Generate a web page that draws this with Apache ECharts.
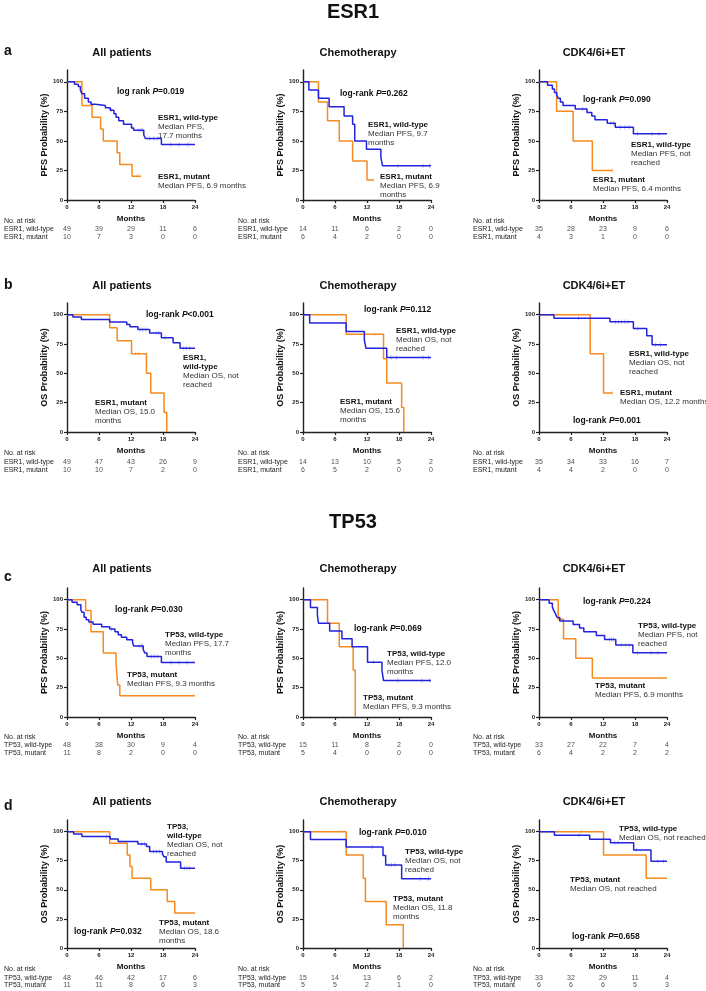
<!DOCTYPE html>
<html>
<head>
<meta charset="utf-8">
<script src="https://cdn.jsdelivr.net/npm/echarts@6/dist/echarts.min.js"></script>
<style>
html,body{margin:0;padding:0;background:#fff}
#chart{width:706px;height:991px}
</style>
</head>
<body>
<div id="chart"></div>
<script>
// ticks of the months axis, also the columns of the risk tables
const monthTicks = [0, 6, 12, 18, 24];
const probTicks = [0, 25, 50, 75, 100];

// ---- ESR1, PFS ([month, survival %] at each step) ----
const a1Wt = [[0,100],[1.4,98],[2.1,96],[2.5,93],[2.8,90],[3.3,86],[4,83],[4.5,81],[5.3,80],[7.2,78],[8.1,76],[8.8,73],[9.2,70],[9.7,67],[10.6,64],[12.1,61],[12.5,59],[14.4,55],[14.7,52],[17.7,47],[24,47]];
const a1Mut = [[0,100],[2.8,80],[4.7,70],[6.3,60],[6.8,50],[9.4,40],[9.9,30],[12.2,20],[13.8,20]];
const a1WtCens = [8.3,13.5,13.9,14.2,15.5,16.3,17,19.5,21,22.7];
const a1MutCens = [13.2,13.8];
const a1RiskWt = [49,39,29,11,6];
const a1RiskMut = [10,7,3,0,0];

const a2Wt = [[0,100],[1.1,93],[2.9,86],[4.9,79],[7.7,71],[9.3,64],[9.7,50],[11.9,43],[14.6,36],[14.9,29],[24,29]];
const a2Mut = [[0,100],[2.9,83],[4.6,67],[6.8,50],[9.3,33],[12,17],[13.2,17]];
const a2WtCens = [17.8,22.5,23.7];
const a2MutCens = [13.2];
const a2RiskWt = [14,11,6,2,0];
const a2RiskMut = [6,4,2,0,0];

const a3Wt = [[0,100],[1.6,97],[2.5,94],[2.9,91],[3.3,89],[3.6,86],[4,83],[4.5,80],[6.8,77],[9,74],[9.9,71],[10.5,68],[12.8,65],[14.3,61.5],[17.7,56],[24,56]];
const a3Mut = [[0,100],[3.3,75],[6.4,50],[10,25],[13.8,25]];
const a3WtCens = [8.2,13.5,14,15.3,16.1,16.9,18.5,21.2,22.5];
const a3MutCens = [13.8];
const a3RiskWt = [35,28,23,9,6];
const a3RiskMut = [4,3,1,0,0];

// ---- ESR1, OS ----
const b1Wt = [[0,100],[1.1,98],[2.7,96],[8,93.7],[11.2,91.7],[11.8,89.7],[13.3,87.5],[15.5,84.5],[17.7,80.3],[19.9,76],[21.2,71.5],[24,71.5]];
const b1Mut = [[0,100],[8,88.9],[9.4,77.8],[12.1,66.7],[14.9,50],[15.7,33.3],[18.2,16.7],[18.7,0]];
const b1WtCens = [13.7,14.2,14.8,16.7,17.2,18.4,21.9,22.4,23];
const b1MutCens = [7.5,12.8,13.4];
const b1RiskWt = [49,47,43,26,9];
const b1RiskMut = [10,10,7,2,0];

const b2Wt = [[0,100],[1.25,92.9],[8.1,85.7],[11.5,78.6],[11.8,71.4],[15.7,63.5],[24,63.5]];
const b2Mut = [[0,100],[8.1,83.3],[15.1,62.5],[15.7,41.7],[18.5,20.8],[18.9,0]];
const b2WtCens = [16.5,17.5,22.5,23.5];
const b2MutCens = [13.4];
const b2RiskWt = [14,13,10,5,2];
const b2RiskMut = [6,5,2,0,0];

const b3Wt = [[0,100],[2.8,97.1],[13.3,94],[17.7,88.3],[20.2,82],[21.2,74.5],[24,74.5]];
const b3Mut = [[0,100],[9.6,66.7],[12.1,33.3],[13.8,33.3]];
const b3WtCens = [7.4,14.3,14.9,15.5,16.1,16.7,18.5,21.8,22.8];
const b3MutCens = [13.8];
const b3RiskWt = [35,34,33,16,7];
const b3RiskMut = [4,4,2,0,0];

// ---- TP53, PFS ----
const c1Wt = [[0,100],[0.95,97.9],[1.9,95.8],[2.6,91.5],[2.8,89.3],[3.2,85.1],[3.6,83],[4.1,81],[4.9,79],[6.5,77],[8,75],[9,72.6],[9.6,70.2],[10.2,68],[11.2,65.8],[12.3,63.4],[12.5,60.6],[14.3,57.5],[14.6,54.5],[15,51.5],[17.7,46.5],[24,46.5]];
const c1Mut = [[0,100],[3.5,90.9],[4.5,72.7],[6.8,54.5],[9.2,45.5],[9.5,27.3],[9.9,18.2],[24,18.2]];
const c1WtCens = [8.3,13.5,13.9,14.2,15.8,16.3,16.9,19.5,21,22.5];
const c1MutCens = [];
const c1RiskWt = [48,38,30,9,4];
const c1RiskMut = [11,8,2,0,0];

const c2Wt = [[0,100],[1.4,93.3],[2.7,86.7],[2.9,80],[5,73.3],[7.3,66.7],[9.2,60],[12.1,46.7],[14.8,40],[15.1,31.1],[24,31.1]];
const c2Mut = [[0,100],[4.6,80],[6.8,60],[9.4,40],[9.8,0]];
const c2WtCens = [13.2,17.8,22.3,23.7];
const c2MutCens = [];
const c2RiskWt = [15,11,8,2,0];
const c2RiskMut = [5,4,0,0,0];

const c3Wt = [[0,100],[1.9,97],[2.5,93.9],[2.75,90.9],[3.1,87.9],[3.4,84.8],[3.9,81.8],[6.4,78.8],[7.6,75.8],[8.4,72.7],[10.75,69.4],[12.3,66.1],[14.4,61.3],[17.6,54.7],[24,54.7]];
const c3Mut = [[0,100],[3.6,83.3],[4.6,66.7],[6.9,50],[10,33.3],[24,33.3]];
const c3WtCens = [13.2,13.6,14,15.5,16.2,16.9,18.5,21,22.3];
const c3MutCens = [];
const c3RiskWt = [33,27,22,7,4];
const c3RiskMut = [6,4,2,2,2];

// ---- TP53, OS ----
const d1Wt = [[0,100],[1.25,97.9],[2.8,95.8],[8.1,93.6],[9.6,91.5],[13.3,89.3],[14.9,87.2],[15.5,83],[17.9,80.7],[18.2,78.4],[18.6,73.8],[21.3,68.5],[24,68.5]];
const d1Mut = [[0,100],[8,90],[11.3,80],[11.8,70],[12.2,60],[15.7,50],[18.8,40],[20.2,30],[24,30]];
const d1WtCens = [7.4,14,14.5,16.2,16.8,17.3,22,22.5,23];
const d1MutCens = [];
const d1RiskWt = [48,46,42,17,6];
const d1RiskMut = [11,11,8,6,3];

const d2Wt = [[0,100],[1.4,93.3],[8.1,86.7],[15,79.4],[15.5,71.4],[18.5,59.5],[24,59.5]];
const d2Mut = [[0,100],[8.1,80],[11.3,60],[11.7,40],[15.6,20],[18.8,0]];
const d2WtCens = [13,16.1,16.6,17.2,22,23.5];
const d2MutCens = [];
const d2RiskWt = [15,14,13,6,2];
const d2RiskMut = [5,5,2,1,0];

const d3Wt = [[0,100],[2.9,96.8],[9.5,93.4],[13.4,90.5],[17.75,84.2],[21,74.5],[24,74.5]];
const d3Mut = [[0,100],[12.1,80],[20.1,60],[24,60]];
const d3WtCens = [7.5,14.2,14.8,18.3,22.3,23.3];
const d3MutCens = [8];
const d3RiskWt = [33,32,29,11,4];
const d3RiskMut = [6,6,6,5,3];

const BLUE = '#2222dd', ORANGE = '#f58a1f';
const FONT = '"Liberation Sans", Arial, Helvetica, sans-serif';

// page layout
const colLeft = [67, 303, 539];
const colText = [4, 238, 473];
const plotW = 128;
const rows = [
	{plotTop:70, plotH:130, riskTop:225.5, riskH:16, noRiskY:221, titleY:53, letter:'a', letterY:51},
	{plotTop:303, plotH:129, riskTop:457.5, riskH:16.5, noRiskY:453.5, titleY:286, letter:'b', letterY:285},
	{plotTop:588, plotH:129, riskTop:741.5, riskH:16, noRiskY:737, titleY:569, letter:'c', letterY:577},
	{plotTop:820, plotH:128, riskTop:974, riskH:15, noRiskY:969, titleY:802, letter:'d', letterY:806}
];
const titles = ['All patients', 'Chemotherapy', 'CDK4/6i+ET'];

const panels = [
	{row:0,col:0,gene:'ESR1',ep:'PFS',wt:a1Wt,mut:a1Mut,wtC:a1WtCens,mutC:a1MutCens,rWt:a1RiskWt,rMut:a1RiskMut},
	{row:0,col:1,gene:'ESR1',ep:'PFS',wt:a2Wt,mut:a2Mut,wtC:a2WtCens,mutC:a2MutCens,rWt:a2RiskWt,rMut:a2RiskMut},
	{row:0,col:2,gene:'ESR1',ep:'PFS',wt:a3Wt,mut:a3Mut,wtC:a3WtCens,mutC:a3MutCens,rWt:a3RiskWt,rMut:a3RiskMut},
	{row:1,col:0,gene:'ESR1',ep:'OS',wt:b1Wt,mut:b1Mut,wtC:b1WtCens,mutC:b1MutCens,rWt:b1RiskWt,rMut:b1RiskMut},
	{row:1,col:1,gene:'ESR1',ep:'OS',wt:b2Wt,mut:b2Mut,wtC:b2WtCens,mutC:b2MutCens,rWt:b2RiskWt,rMut:b2RiskMut},
	{row:1,col:2,gene:'ESR1',ep:'OS',wt:b3Wt,mut:b3Mut,wtC:b3WtCens,mutC:b3MutCens,rWt:b3RiskWt,rMut:b3RiskMut},
	{row:2,col:0,gene:'TP53',ep:'PFS',wt:c1Wt,mut:c1Mut,wtC:c1WtCens,mutC:c1MutCens,rWt:c1RiskWt,rMut:c1RiskMut},
	{row:2,col:1,gene:'TP53',ep:'PFS',wt:c2Wt,mut:c2Mut,wtC:c2WtCens,mutC:c2MutCens,rWt:c2RiskWt,rMut:c2RiskMut},
	{row:2,col:2,gene:'TP53',ep:'PFS',wt:c3Wt,mut:c3Mut,wtC:c3WtCens,mutC:c3MutCens,rWt:c3RiskWt,rMut:c3RiskMut},
	{row:3,col:0,gene:'TP53',ep:'OS',wt:d1Wt,mut:d1Mut,wtC:d1WtCens,mutC:d1MutCens,rWt:d1RiskWt,rMut:d1RiskMut},
	{row:3,col:1,gene:'TP53',ep:'OS',wt:d2Wt,mut:d2Mut,wtC:d2WtCens,mutC:d2MutCens,rWt:d2RiskWt,rMut:d2RiskMut},
	{row:3,col:2,gene:'TP53',ep:'OS',wt:d3Wt,mut:d3Mut,wtC:d3WtCens,mutC:d3MutCens,rWt:d3RiskWt,rMut:d3RiskMut}
];

// text on the plots: [x, y, text before P, text after P]
const pTexts = [
	[117,92,'log rank ','=0.019'],[340,94,'log-rank ','=0.262'],[583,100,'log-rank ','=0.090'],
	[146,315,'log-rank ','<0.001'],[364,310,'log-rank ','=0.112'],[573,421,'log-rank ','=0.001'],
	[115,610,'log-rank ','=0.030'],[354,629,'log-rank ','=0.069'],[583,602,'log-rank ','=0.224'],
	[74,932,'log-rank ','=0.032'],[359,833,'log-rank ','=0.010'],[572,937,'log-rank ','=0.658']
];
// curve labels: [x, y of first line, bold lines, plain lines]
const notes = [
	[158,118,['ESR1, wild-type'],['Median PFS,','17.7 months']],
	[158,177,['ESR1, mutant'],['Median PFS, 6.9 months']],
	[368,125,['ESR1, wild-type'],['Median PFS, 9.7','months']],
	[380,177,['ESR1, mutant'],['Median PFS, 6.9','months']],
	[631,145,['ESR1, wild-type'],['Median PFS, not','reached']],
	[593,180,['ESR1, mutant'],['Median PFS, 6.4 months']],
	[183,358,['ESR1,','wild-type'],['Median OS, not','reached']],
	[95,403,['ESR1, mutant'],['Median OS, 15.0','months']],
	[396,331,['ESR1, wild-type'],['Median OS, not','reached']],
	[340,402,['ESR1, mutant'],['Median OS, 15.6','months']],
	[629,354,['ESR1, wild-type'],['Median OS, not','reached']],
	[620,393,['ESR1, mutant'],['Median OS, 12.2 months']],
	[165,635,['TP53, wild-type'],['Median PFS, 17.7','months']],
	[127,675,['TP53, mutant'],['Median PFS, 9.3 months']],
	[387,654,['TP53, wild-type'],['Median PFS, 12.0','months']],
	[363,698,['TP53, mutant'],['Median PFS, 9.3 months']],
	[638,626,['TP53, wild-type'],['Median PFS, not','reached']],
	[595,686,['TP53, mutant'],['Median PFS, 6.9 months']],
	[167,827,['TP53,','wild-type'],['Median OS, not','reached']],
	[159,923,['TP53, mutant'],['Median OS, 18.6','months']],
	[405,852,['TP53, wild-type'],['Median OS, not','reached']],
	[393,899,['TP53, mutant'],['Median OS, 11.8','months']],
	[619,829,['TP53, wild-type'],['Median OS, not reached']],
	[570,880,['TP53, mutant'],['Median OS, not reached']]
];

function survAt(pts, t){
	let s = pts[0][1];
	for (const p of pts) if (p[0] <= t) s = p[1];
	return s;
}

const grid = [], xAxis = [], yAxis = [], series = [], graphic = [];
const axisCol = '#222';

panels.forEach(function(p){
	const r = rows[p.row];
	const left = colLeft[p.col];
	// KM plot
	grid.push({left:left, top:r.plotTop, width:plotW, height:r.plotH});
	const gi = grid.length-1;
	xAxis.push({
		gridIndex:gi, type:'value', min:0, max:24, interval:6,
		axisLine:{lineStyle:{color:axisCol,width:1.4}},
		axisTick:{length:3,lineStyle:{color:axisCol,width:1.2}},
		axisLabel:{fontSize:6,fontWeight:'bold',color:axisCol,margin:4,fontFamily:FONT},
		splitLine:{show:false},
		name:'Months', nameLocation:'middle', nameGap:15,
		nameTextStyle:{fontSize:8,fontWeight:'bold',color:'#111',fontFamily:FONT}
	});
	yAxis.push({
		gridIndex:gi, type:'value', min:0, max:110,
		axisLine:{show:true,lineStyle:{color:axisCol,width:1.4}},
		axisTick:{show:true,length:3,customValues:probTicks,lineStyle:{color:axisCol,width:1.2}},
		axisLabel:{fontSize:6,fontWeight:'bold',color:axisCol,margin:4,fontFamily:FONT,customValues:probTicks},
		splitLine:{show:false},
		name:p.ep + ' Probability (%)', nameLocation:'middle', nameRotate:90, nameGap:16,
		nameTextStyle:{fontSize:9,fontWeight:'bold',color:'#111',fontFamily:FONT}
	});
	[[p.mut,p.mutC,ORANGE,'rgba(245,138,31,0.55)'],[p.wt,p.wtC,BLUE,'rgba(34,34,221,0.45)']].forEach(function(s){
		series.push({
			type:'line', step:'end', xAxisIndex:gi, yAxisIndex:gi, data:s[0],
			showSymbol:false, lineStyle:{color:s[2],width:1.5}, itemStyle:{color:s[2]}, silent:true
		});
		series.push({
			type:'scatter', xAxisIndex:gi, yAxisIndex:gi,
			data:s[1].map(function(t){ return [t, survAt(s[0], t)]; }),
			symbol:'rect', symbolSize:[0.8,4.5], itemStyle:{color:s[3]}, silent:true
		});
	});
	// risk table
	grid.push({left:left, top:r.riskTop, width:plotW, height:r.riskH});
	const ri = grid.length-1;
	xAxis.push({gridIndex:ri, type:'value', min:0, max:24, show:false});
	yAxis.push({
		gridIndex:ri, type:'category', inverse:true,
		data:[p.gene + ', wild-type', p.gene + ', mutant'],
		axisLine:{show:false}, axisTick:{show:false},
		axisLabel:{interval:0, hideOverlap:false, align:'left', margin:left - colText[p.col], fontSize:7, color:'#222', fontFamily:FONT}
	});
	const riskData = [];
	monthTicks.forEach(function(m, k){
		riskData.push([m, 0, p.rWt[k]]);
		riskData.push([m, 1, p.rMut[k]]);
	});
	series.push({
		type:'scatter', xAxisIndex:ri, yAxisIndex:ri, data:riskData,
		symbolSize:1, itemStyle:{color:'rgba(0,0,0,0)'}, silent:true,
		label:{show:true, position:'inside', fontSize:7, color:'#222', fontFamily:FONT,
			formatter:function(d){ return d.value[2]; }}
	});
	graphic.push({type:'text', x:colText[p.col], y:r.noRiskY,
		style:{text:'No. at risk', fontSize:7, fill:'#222', fontFamily:FONT, align:'left', verticalAlign:'middle'}});
});

// headings
rows.forEach(function(r){
	titles.forEach(function(t, c){
		graphic.push({type:'text', x:colLeft[c] + plotW/2 - 9, y:r.titleY,
			style:{text:t, fontSize:11, fontWeight:'bold', fill:'#111', fontFamily:FONT, align:'center', verticalAlign:'middle'}});
	});
	graphic.push({type:'text', x:4, y:r.letterY,
		style:{text:r.letter, fontSize:14, fontWeight:'bold', fill:'#111', fontFamily:FONT, align:'left', verticalAlign:'middle'}});
});
[['ESR1',12],['TP53',522]].forEach(function(h){
	graphic.push({type:'text', x:353, y:h[1],
		style:{text:h[0], fontSize:20, fontWeight:'bold', fill:'#111', fontFamily:FONT, align:'center', verticalAlign:'middle'}});
});

pTexts.forEach(function(t){
	graphic.push({type:'text', x:t[0], y:t[1], style:{
		text:'{b|' + t[2] + '}{i|P}{b|' + t[3] + '}',
		align:'left', verticalAlign:'middle',
		rich:{
			b:{fontSize:8.5,fontWeight:'bold',fill:'#111',fontFamily:FONT},
			i:{fontSize:8.5,fontWeight:'bold',fontStyle:'italic',fill:'#111',fontFamily:FONT}
		}
	}});
});
notes.forEach(function(n){
	const lines = n[2].map(function(s){ return '{b|' + s + '}'; })
		.concat(n[3].map(function(s){ return '{n|' + s + '}'; }));
	graphic.push({type:'text', x:n[0], y:n[1] - 4.5, style:{
		text:lines.join('\n'), align:'left', verticalAlign:'top',
		rich:{
			b:{fontSize:8,fontWeight:'bold',fill:'#111',fontFamily:FONT,lineHeight:9},
			n:{fontSize:8,fill:'#333',fontFamily:FONT,lineHeight:9}
		}
	}});
});

const chart = echarts.init(document.getElementById('chart'), null, {renderer:'canvas'});
chart.setOption({
	animation:false,
	backgroundColor:'#fff',
	grid:grid, xAxis:xAxis, yAxis:yAxis, series:series, graphic:graphic
});
</script>
</body>
</html>
